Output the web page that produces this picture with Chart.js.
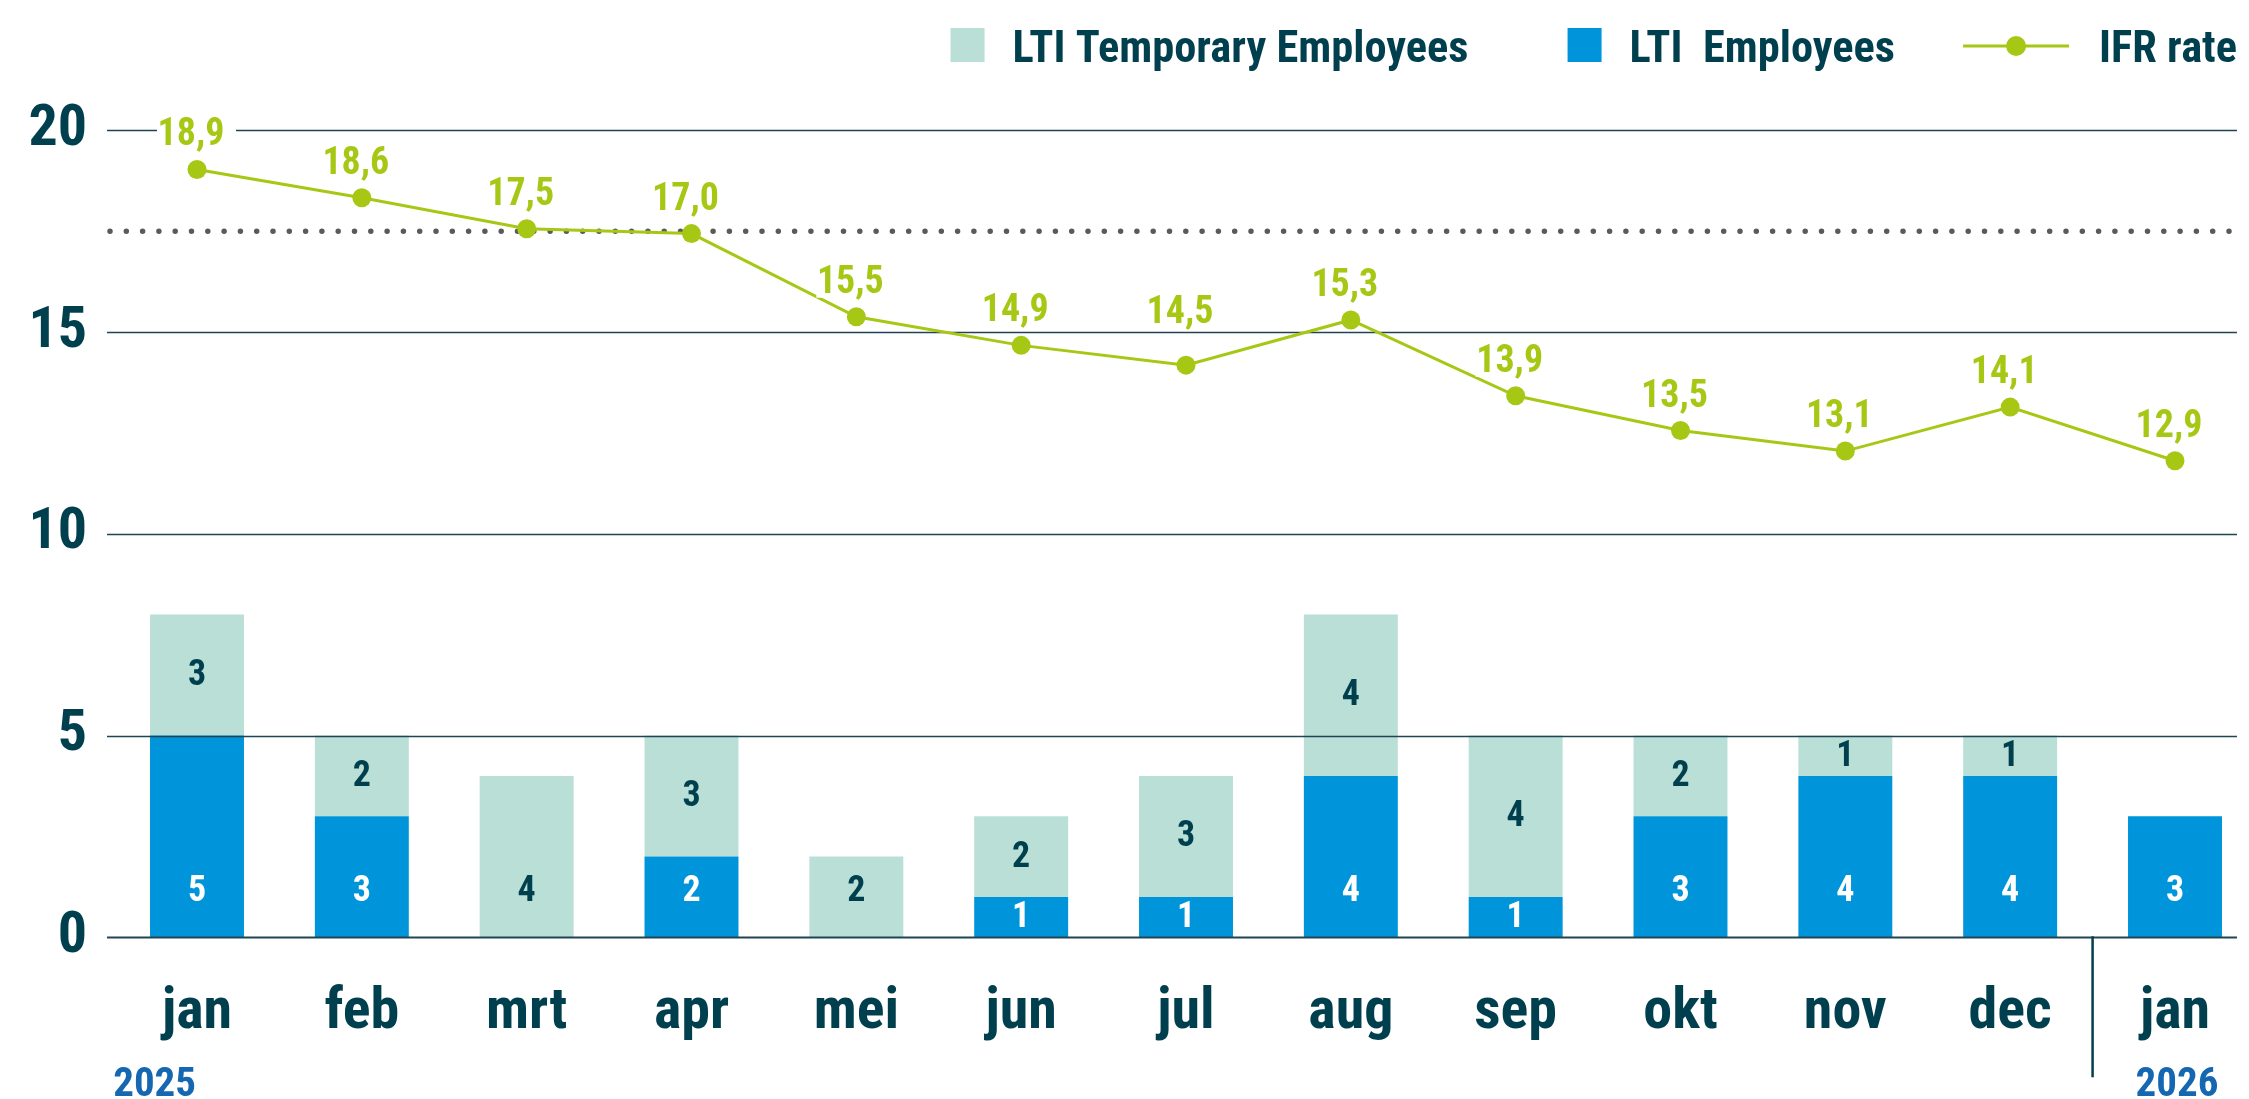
<!DOCTYPE html>
<html><head><meta charset="utf-8">
<script src="https://cdn.jsdelivr.net/npm/chart.js@4.4.1/dist/chart.umd.min.js"></script>
<style>html,body{margin:0;padding:0;background:#fff;overflow:hidden}#wrap{width:2249px;height:1099px;position:relative}</style>
</head><body><div id="wrap"><canvas id="c"></canvas></div>
<script>
// ---- data ----
const months = ['jan','feb','mrt','apr','mei','jun','jul','aug','sep','okt','nov','dec','jan'];
const yearLabels = ['2025','2026'];
const ltiEmployees = [5,3,0,2,0,1,1,4,1,3,4,4,3];
const ltiTemporary = [3,2,4,3,2,2,3,4,4,2,1,1,0];
// IFR rate as printed on the chart
const ifrRate = [18.9,18.6,17.5,17.0,15.5,14.9,14.5,15.3,13.9,13.5,13.1,14.1,12.9];
// IFR marker level as drawn against the left axis in the reference
const ifrLevel = [19.03,18.33,17.56,17.44,15.38,14.67,14.18,15.30,13.42,12.56,12.05,13.14,11.81];
const yTicks = [0,5,10,15,20];
const targetLevel = 17.5;
const legendNames = ['LTI Temporary Employees','LTI  Employees','IFR rate'];

// ---- font selection: find a condensed face if one is installed ----
const probe = document.createElement('canvas').getContext('2d');
const PROBE_TXT = 'LTI Temporary Employees';
let FAM = "'DejaVu Sans Condensed', 'DejaVu Sans', sans-serif", WEIGHT = 'bold', CONDENSED = false;
for (const f of ['Roboto', 'Open Sans', 'Noto Sans', 'Liberation Sans Narrow', 'Liberation Sans', 'Lato']) {
  probe.font = `bold 100px '${f}'`;
  const a = probe.measureText(PROBE_TXT).width;
  probe.font = `bold condensed 100px '${f}'`;
  const b = probe.measureText(PROBE_TXT).width;
  if (b < a * 0.93) { FAM = `'${f}', sans-serif`; WEIGHT = 'bold condensed'; CONDENSED = true; break; }
}
const fontStr = size => `${WEIGHT} ${size}px ${FAM}`;
// horizontal squeeze for hand-drawn text so the legend width matches the reference (~456px)
probe.font = fontStr(44.5);
const SX = Math.min(1, 456 / probe.measureText(PROBE_TXT).width);

const C = {blue:'#0095DA', light:'#BADFD7', dark:'#003F4E', green:'#A6C815', grid:'#1E4652', dots:'#5A5A5A', year:'#1467B0'};

function txt(ctx, s, x, y, align) {
  ctx.save(); ctx.translate(x, y); ctx.scale(SX, 1); ctx.textAlign = align; ctx.fillText(s, 0, 0); ctx.restore();
  return ctx.measureText(s).width * SX;
}

const overlay = {
  id: 'overlay',
  beforeDatasetDraw(chart, args) {
    if (args.meta.type !== 'line') return;
    const ctx = chart.ctx, x = chart.scales.x, y = chart.scales.y;
    const step = x.getPixelForValue(1) - x.getPixelForValue(0);
    const left = x.getPixelForValue(0) - 0.546 * step;
    const right = x.getPixelForValue(months.length - 1) + 0.376 * step;
    ctx.save();
    yTicks.forEach(v => {
      const py = Math.round(y.getPixelForValue(v)) + 0.5;
      ctx.strokeStyle = C.grid; ctx.lineWidth = v === 0 ? 2 : 1.5;
      ctx.beginPath(); ctx.moveTo(left, py); ctx.lineTo(right, py); ctx.stroke();
    });
    const ty = y.getPixelForValue(targetLevel);
    ctx.strokeStyle = C.dots; ctx.lineWidth = 5.5; ctx.lineCap = 'round';
    ctx.setLineDash([0, 16.3]);
    ctx.beginPath(); ctx.moveTo(left + 3, ty); ctx.lineTo(right, ty); ctx.stroke();
    ctx.restore();
  },
  afterDatasetsDraw(chart) {
    const ctx = chart.ctx, x = chart.scales.x, y = chart.scales.y;
    const base0 = y.getPixelForValue(0);
    ctx.save();
    // fallback tick labels when no condensed face exists
    if (!CONDENSED) {
      ctx.fillStyle = C.dark; ctx.font = fontStr(58);
      ctx.textBaseline = 'alphabetic';
      x.ticks.forEach((t, i) => txt(ctx, months[i], x.getPixelForTick(i), base0 + 96, 'center'));
      ctx.textBaseline = 'middle';
      y.ticks.forEach((t, i) => txt(ctx, String(t.value), chart.chartArea.left - 110, y.getPixelForTick(i) + 1, 'right'));
    }
    // bar segment labels
    ctx.textBaseline = 'middle';
    ctx.font = fontStr(36);
    [0, 1].forEach(di => {
      const meta = chart.getDatasetMeta(di);
      const vals = chart.data.datasets[di].data;
      meta.data.forEach((el, i) => {
        if (!vals[i]) return;
        const h = el.base - el.y;
        let cy = (el.y + el.base) / 2;
        if (Math.abs(el.base - base0) < 1 && h >= 60) cy = el.base - 46.6;
        ctx.fillStyle = di === 0 ? '#FFFFFF' : C.dark;
        txt(ctx, String(vals[i]), el.x, cy + 1, 'center');
      });
    });
    // IFR labels
    const gridPx = yTicks.map(v => Math.round(y.getPixelForValue(v)) + 0.5);
    const lm = chart.getDatasetMeta(2);
    ctx.font = fontStr(38);
    ctx.textBaseline = 'alphabetic';
    lm.data.forEach((pt, i) => {
      let bl = pt.y - 24;
      gridPx.forEach(g => { if (g > bl - 12 && g < bl + 8) bl = g - 10; });
      ctx.fillStyle = '#FFFFFF';
      ctx.fillRect(pt.x - 40, bl - 31, 79, 36);
      ctx.fillStyle = C.green;
      txt(ctx, ifrRate[i].toFixed(1).replace('.', ','), pt.x - 6, bl, 'center');
    });
    // separator between years
    const sx = (x.getPixelForValue(11) + x.getPixelForValue(12)) / 2;
    ctx.strokeStyle = C.dark; ctx.lineWidth = 2.5;
    ctx.beginPath(); ctx.moveTo(sx, base0 - 1); ctx.lineTo(sx, base0 + 140); ctx.stroke();
    // year labels
    ctx.font = fontStr(41); ctx.fillStyle = C.year;
    txt(ctx, yearLabels[0], x.getPixelForValue(0) - 1, chart.height - 3, 'right');
    txt(ctx, yearLabels[1], x.getPixelForValue(12) + 2, chart.height - 3, 'center');
    // legend (right to left)
    ctx.font = fontStr(44.5); ctx.fillStyle = C.dark;
    const baseY = 62;
    let cx = x.getPixelForValue(months.length - 1) + 62;
    cx -= txt(ctx, legendNames[2], cx, baseY, 'right') + 30;
    ctx.strokeStyle = C.green; ctx.lineWidth = 3;
    ctx.beginPath(); ctx.moveTo(cx - 106, 46); ctx.lineTo(cx, 46); ctx.stroke();
    ctx.fillStyle = C.green; ctx.beginPath(); ctx.arc(cx - 53, 46, 10, 0, Math.PI * 2); ctx.fill();
    cx -= 106 + 68;
    ctx.fillStyle = C.dark;
    cx -= txt(ctx, legendNames[1], cx, baseY, 'right') + 28;
    ctx.fillStyle = C.blue; ctx.fillRect(cx - 34, 28, 34, 34);
    cx -= 34 + 99;
    ctx.fillStyle = C.dark;
    cx -= txt(ctx, legendNames[0], cx, baseY, 'right') + 28;
    ctx.fillStyle = C.light; ctx.fillRect(cx - 34, 28, 34, 34);
    ctx.restore();
  }
};

const tickColor = CONDENSED ? C.dark : 'rgba(0,0,0,0)';
new Chart(document.getElementById('c'), {
  data: {
    labels: months,
    datasets: [
      { type: 'bar', label: legendNames[1], data: ltiEmployees, backgroundColor: C.blue, order: 1, clip: false, barPercentage: 0.57, categoryPercentage: 1, stack: 'lti' },
      { type: 'bar', label: legendNames[0], data: ltiTemporary, backgroundColor: C.light, order: 1, clip: false, barPercentage: 0.57, categoryPercentage: 1, stack: 'lti' },
      { type: 'line', label: legendNames[2], data: ifrLevel, borderColor: C.green, backgroundColor: C.green, borderWidth: 3, pointRadius: 9.5, pointBackgroundColor: C.green, pointBorderWidth: 0, tension: 0, order: 0, clip: false, stack: 'ifr' }
    ]
  },
  options: {
    responsive: true, maintainAspectRatio: false, animation: false,
    layout: { padding: { top: 130.3, right: 74, left: 0, bottom: 0 } },
    plugins: { legend: { display: false }, tooltip: { enabled: false } },
    scales: {
      x: {
        type: 'category', offset: false, stacked: true,
        grid: { display: false, drawTicks: false }, border: { display: false },
        ticks: { color: tickColor, font: { family: FAM, size: 58, weight: WEIGHT }, padding: 41, maxRotation: 0, autoSkip: false },
        afterFit(s) { s.height = 161.7; s.paddingLeft = 0; s.paddingRight = 0; }
      },
      y: {
        stacked: true, min: 0, max: 20,
        grid: { display: false, drawTicks: false }, border: { display: false },
        ticks: { stepSize: 5, color: tickColor, font: { family: FAM, size: 58, weight: WEIGHT }, padding: 110 },
        afterFit(s) { s.width = 197; s.paddingTop = 0; s.paddingBottom = 0; }
      }
    }
  },
  plugins: [overlay]
});
</script></body></html>
